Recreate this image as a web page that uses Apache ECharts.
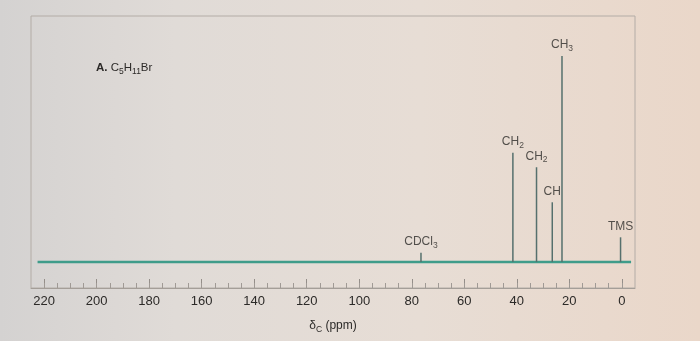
<!DOCTYPE html>
<html>
<head>
<meta charset="utf-8">
<script src="https://cdn.jsdelivr.net/npm/echarts@6/dist/echarts.min.js"></script>
<style>html,body{margin:0;padding:0;}#c{width:700px;height:341px;}</style>
</head>
<body>
<div id="c"></div>
<script>
// ---- data ----
const peakShifts  = [41.5, 32.5, 26.5, 22.8, 0.5, 76.5];     // δC ppm
const peakHeights = [53, 46, 29, 100, 12, 4.5];               // relative intensity
const peakLabels  = ['CH{s|2}', 'CH{s|2}', 'CH', 'CH{s|3}', 'TMS', 'CDCl{s|3}'];
const baselineRange = [222.5, -3.5];                          // ppm span of baseline trace
const majorTicks = [0, 20, 40, 60, 80, 100, 120, 140, 160, 180, 200, 220];
const minorTicks = [];
for (let v = 0; v <= 220; v += 5) minorTicks.push(v);

const FONT = '"Liberation Sans", Arial, Helvetica, sans-serif';
const TXT = '#2c2a28';

const chart = echarts.init(document.getElementById('c'), null, {renderer: 'canvas'});

const peakLineData = peakShifts.map((p, i) => [p, peakHeights[i]]);
const baselineData = baselineRange.map(p => [p, 0]);

const subRich = {
  s: {fontSize: 8.5, lineHeight: 16, verticalAlign: 'bottom', fontFamily: FONT, color: TXT, fontWeight: 'normal'}
};

chart.setOption({
  backgroundColor: {
    type: 'linear', x: 0, y: 0, x2: 1, y2: 0,
    colorStops: [
      {offset: 0, color: '#d4d2d1'},
      {offset: 0.25, color: '#e0dbd7'},
      {offset: 0.6, color: '#e7ddd5'},
      {offset: 1, color: '#ead7c9'}
    ]
  },
  animation: false,
  title: {
    text: '{b|A.} C{s|5}H{s|11}Br',
    left: 91, top: 55,
    textStyle: {
      fontSize: 11.5, fontWeight: 'normal', fontFamily: FONT, color: TXT, lineHeight: 16,
      rich: {
        b: {fontSize: 11.5, fontWeight: 'bold', fontFamily: FONT, color: TXT, lineHeight: 16},
        s: {fontSize: 8.5, lineHeight: 16, verticalAlign: 'bottom', fontFamily: FONT, color: TXT, fontWeight: 'normal'}
      }
    }
  },
  grid: {
    left: 31, right: 65, top: 16, bottom: 53,
    show: true, borderColor: '#b3aca6', borderWidth: 1, backgroundColor: 'transparent'
  },
  xAxis: [{
    type: 'value', inverse: true, min: -5, max: 225, position: 'bottom',
    axisLine: {show: true, onZero: false, lineStyle: {color: '#a49e98', width: 1}},
    axisTick: {show: true, inside: true, length: 9, lineStyle: {color: '#948e89'}, customValues: majorTicks},
    axisLabel: {show: true, margin: 7, fontSize: 13, fontFamily: FONT, color: TXT, customValues: majorTicks},
    splitLine: {show: false},
    name: 'δ{s|C} (ppm)',
    nameLocation: 'middle', nameGap: 30,
    nameTextStyle: {fontSize: 12, fontFamily: FONT, color: TXT, lineHeight: 16, rich: subRich}
  }, {
    type: 'value', inverse: true, min: -5, max: 225, position: 'bottom',
    axisLine: {show: false, onZero: false},
    axisTick: {show: true, inside: true, length: 5, lineStyle: {color: '#a09a95'}, customValues: minorTicks},
    axisLabel: {show: false},
    splitLine: {show: false}
  }],
  yAxis: {
    type: 'value', min: -12.6, max: 119.4, show: false, splitLine: {show: false}
  },
  series: [
    {
      type: 'line', xAxisIndex: 0, data: baselineData, symbol: 'none',
      lineStyle: {color: '#3f9c8a', width: 2.6}, silent: true, z: 2
    },
    {
      type: 'custom', xAxisIndex: 0, data: peakLineData, z: 3,
      renderItem: function (params, api) {
        const x = api.value(0), h = api.value(1);
        const p0 = api.coord([x, 0]);
        const p1 = api.coord([x, h]);
        return {
          type: 'line',
          shape: {x1: p0[0], y1: p0[1], x2: p1[0], y2: p1[1]},
          style: {stroke: '#55706d', lineWidth: 1.5}
        };
      }
    },
    {
      type: 'scatter', xAxisIndex: 0, symbolSize: 0.1, z: 4,
      data: peakLineData.map((d, i) => ({value: d, label: {formatter: peakLabels[i]}})),
      itemStyle: {color: 'transparent'},
      label: {
        show: true, position: 'top', distance: 3,
        fontSize: 12, fontFamily: FONT, color: TXT, lineHeight: 16,
        rich: subRich
      }
    }
  ]
});
</script>
</body>
</html>
